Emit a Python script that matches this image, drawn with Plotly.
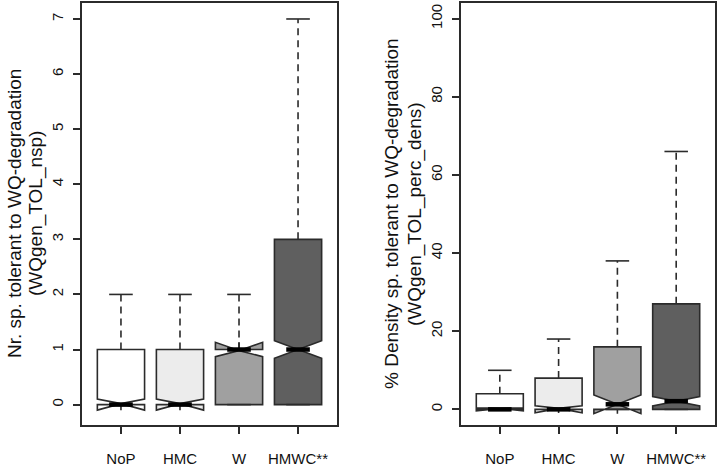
import plotly.graph_objects as go

# ---------------- data ----------------
categories = ["NoP", "HMC", "W", "HMWC**"]
fill_colors = ["#ffffff", "#ececec", "#a0a0a0", "#5f5f5f"]

# left panel: number of species tolerant to WQ-degradation
nsp_lower = [0, 0, 0, 0]
nsp_q1 = [0, 0, 0, 0]
nsp_median = [0, 0, 1, 1]
nsp_q3 = [1, 1, 1, 3]
nsp_upper = [2, 2, 2, 7]
nsp_notch = [0.1, 0.1, 0.13, 0.16]
nsp_ticks = [0, 1, 2, 3, 4, 5, 6, 7]

# right panel: % density of tolerant species
dens_lower = [0, 0, 0, 0]
dens_q1 = [0, 0, 0, 0]
dens_median = [0, 0, 1.3, 2.1]
dens_q3 = [4, 8, 16, 27]
dens_upper = [10, 18, 38, 66]
dens_notch = [0.4, 0.9, 2.4, 1.2]
dens_ticks = [0, 20, 40, 60, 80, 100]

title_left = ["Nr. sp. tolerant to WQ-degradation", "(WQgen_TOL_nsp)"]
title_right = ["% Density sp. tolerant to WQ-degradation", "(WQgen_TOL_perc_dens)"]

# ---------------- style ----------------
FONT = "Liberation Sans, Arial, sans-serif"
EDGE = "#2b2b2b"
TXT = "#111111"
BOXW = 0.8
HALF_CAP = 0.2
positions = [i + 1 for i in range(len(categories))]

fig = go.Figure()


def add_panel(xa, ya, lower, q1, med, q3, upper, notch):
    for i, cat in enumerate(categories):
        p = positions[i]
        fig.add_trace(go.Box(
            x=[p], q1=[q1[i]], median=[med[i]], q3=[q3[i]],
            lowerfence=[q1[i]], upperfence=[q3[i]],
            notchspan=[notch[i]], notched=True, notchwidth=0.5,
            width=BOXW, whiskerwidth=0, boxpoints=False,
            fillcolor=fill_colors[i], line=dict(color=EDGE, width=1.6),
            name=cat, showlegend=False, hoverinfo="skip",
            xaxis=xa, yaxis=ya))
        # dashed whiskers
        fig.add_trace(go.Scatter(
            x=[p, p, None, p, p], y=[q3[i], upper[i], None, q1[i], lower[i]],
            mode="lines", line=dict(color=EDGE, width=1.6, dash="7px,5px"),
            showlegend=False, hoverinfo="skip", xaxis=xa, yaxis=ya))
        # staples
        fig.add_trace(go.Scatter(
            x=[p - HALF_CAP, p + HALF_CAP, None, p - HALF_CAP, p + HALF_CAP],
            y=[upper[i], upper[i], None, lower[i], lower[i]],
            mode="lines", line=dict(color=EDGE, width=1.6),
            showlegend=False, hoverinfo="skip", xaxis=xa, yaxis=ya))
        # thick median
        fig.add_trace(go.Scatter(
            x=[p - HALF_CAP, p + HALF_CAP], y=[med[i], med[i]],
            mode="lines", line=dict(color="#000000", width=4.5),
            showlegend=False, hoverinfo="skip", xaxis=xa, yaxis=ya))


add_panel("x", "y", nsp_lower, nsp_q1, nsp_median, nsp_q3, nsp_upper, nsp_notch)
add_panel("x2", "y2", dens_lower, dens_q1, dens_median, dens_q3, dens_upper, dens_notch)

W, H = 719, 467
ydom = [1 - 425 / H, 1 - 3 / H]

common_x = dict(
    range=[0.34, 4.66], tickmode="array", tickvals=positions, ticktext=categories,
    showline=True, mirror=True, linecolor=EDGE, linewidth=2,
    ticks="outside", ticklen=7, tickwidth=1.5, tickcolor=EDGE,
    showgrid=False, zeroline=False, ticklabelstandoff=12,
    tickfont=dict(family=FONT, size=15, color=TXT),
)
common_y = dict(
    showline=True, mirror=True, linecolor=EDGE, linewidth=2,
    ticks="outside", ticklen=7, tickwidth=1.5, tickcolor=EDGE,
    showgrid=False, zeroline=False, tickangle=-90, ticklabelstandoff=4,
    tickfont=dict(family=FONT, size=15, color=TXT), domain=ydom,
)

fig.update_layout(
    width=W, height=H,
    margin=dict(l=0, r=0, t=0, b=0),
    paper_bgcolor="white", plot_bgcolor="white",
    boxmode="overlay",
    xaxis=dict(domain=[82 / W, 337 / W], anchor="y", **common_x),
    xaxis2=dict(domain=[461 / W, 715 / W], anchor="y2", **common_x),
    yaxis=dict(range=[-0.37, 7.29], tickvals=nsp_ticks, anchor="x", **common_y),
    yaxis2=dict(range=[-4, 104], tickvals=dens_ticks, anchor="x2", **common_y),
)

yc = 1 - 214 / H
for txt, xpx in zip(title_left + title_right, [14, 36, 391, 415]):
    fig.add_annotation(
        text=txt, x=xpx / W, y=yc, xref="paper", yref="paper",
        xanchor="center", yanchor="middle", textangle=-90, showarrow=False,
        font=dict(family=FONT, size=19, color=TXT))

fig.write_html(
    "out.html",
    config={"displayModeBar": False},
    post_script="document.body.style.margin='0';document.body.style.padding='0';"
                "document.body.style.overflow='hidden';",
)
